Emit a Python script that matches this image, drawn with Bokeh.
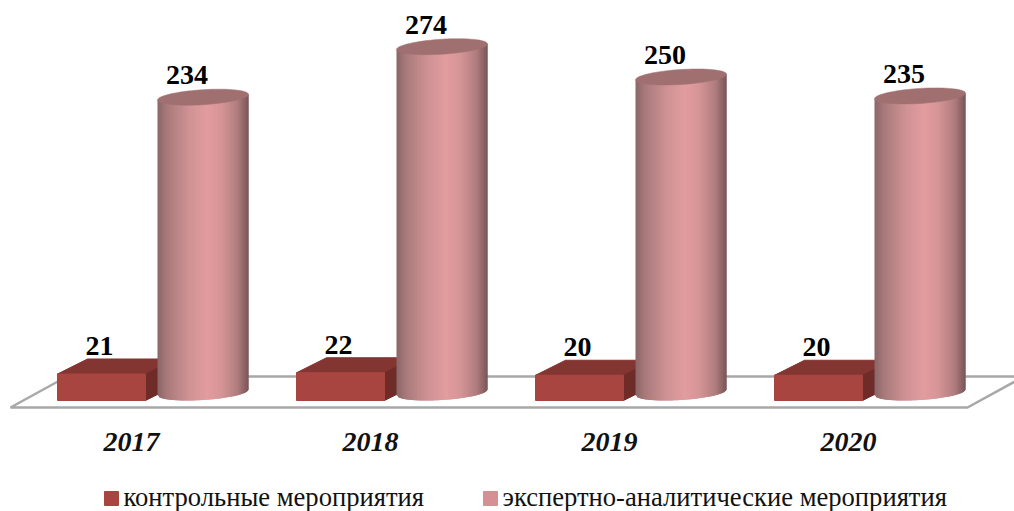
from bokeh.plotting import figure
from bokeh.models import ColumnDataSource
from bokeh.core.properties import value
from bokeh.embed import file_html
from bokeh.resources import INLINE
import numpy as np

years = ["2017", "2018", "2019", "2020"]
control = [21, 22, 20, 20]
expert = [234, 274, 250, 235]
series_names = ["контрольные мероприятия", "экспертно-аналитические мероприятия"]

FONT = "Liberation Serif"
W, H = 1014, 511
PX_X = 239.0      # pixels per category
PX_Y = 1.262      # pixels per value unit
ORIGIN_X = 131          # px of category 0
ORIGIN_Y = 392          # px (from top) of value 0
px = lambda n: n / PX_X
py = lambda n: n / PX_Y
page_x = lambda n: (n - ORIGIN_X) / PX_X
page_y = lambda n: (ORIGIN_Y - n) / PX_Y

p = figure(width=W, height=H, output_backend="svg", toolbar_location=None,
           x_range=(-ORIGIN_X / PX_X, (W - ORIGIN_X) / PX_X),
           y_range=(-(H - ORIGIN_Y) / PX_Y, ORIGIN_Y / PX_Y),
           min_border=0, outline_line_color=None, background_fill_color="white")
p.grid.visible = False
p.axis.visible = False

# floor
n = len(years)
fl = px(-121), px(836)
dx_f, dy_f = px(56.5), py(31)
fy = py(-15)
p.patch([fl[0], fl[1], fl[1] + dx_f, fl[0] + dx_f], [fy, fy, fy + dy_f, fy + dy_f],
        fill_color="white", line_color="#a8a8a8", line_width=2.5)

# red boxes
xs = np.arange(n, dtype=float)
bw = px(88)
bx = xs + px(-30)
base = py(-8)
dxb, dyb = px(30), py(15)
ctl = np.array(control, dtype=float)
left, right = bx - bw / 2, bx + bw / 2
p.patches([[l, r, r + dxb, l + dxb] for l, r in zip(left, right)],
          [[t, t, t + dyb, t + dyb] for t in ctl + base],
          fill_color="#833531", line_color="#833531")
p.patches([[r, r + dxb, r + dxb, r] for r in right],
          [[base, base + dyb, t + dyb, t] for t in ctl + base],
          fill_color="#6f2b28", line_color="#6f2b28")
p.quad(left=left, right=right, bottom=base, top=ctl + base,
       fill_color="#a94540", line_color="#a94540")

# cylinders
stops_f = [0.0, 0.10, 0.35, 0.55, 0.70, 0.88, 1.0]
stops_c = np.array([[0x8a, 0x66, 0x67], [0xa8, 0x79, 0x7a], [0xd0, 0x93, 0x95],
                    [0xe2, 0x9c, 0x9f], [0xd6, 0x95, 0x97], [0xb0, 0x7c, 0x7e],
                    [0x78, 0x55, 0x56]])
def shade(f):
    c = [int(round(np.interp(f, stops_f, stops_c[:, i]))) for i in range(3)]
    return "#%02x%02x%02x" % tuple(c)

A, B, K = 45.5, 7.5, 2.8
N = 60
cx0 = xs + px(71.5)
u = np.linspace(-1, 1, N + 1)          # position across the cylinder
def low(c):
    return py(K * c - B * np.sqrt(np.clip(1 - c * c, 0, 1)))
sx, sy, sc = [], [], []
for cx, v in zip(cx0, expert):
    for i in range(N):
        c0, c1 = u[i], u[min(i + 2, N)]   # overlap the next strip, no seams
        x0, x1 = cx + px(A * c0), cx + px(A * c1)
        sx.append([x0, x1, x1, x0])
        sy.append([low(c0), low(c1), v + py(K * c1), v + py(K * c0)])
        sc.append(shade((i + 0.5) / N))
p.patches(xs="x", ys="y", fill_color="c", line_color=None,
          source=ColumnDataSource(dict(x=sx, y=sy, c=sc)))
tt = np.linspace(0, 2 * np.pi, 73)
p.patches([list(cx + px(A * np.cos(tt))) for cx in cx0],
          [list(v + py(K * np.cos(tt) + B * np.sin(tt))) for v in expert],
          fill_color="#a07071", line_color="#a07071", line_width=0.5)

# value labels
lab = dict(text_font=value(FONT), text_font_size="28px", text_font_style="bold",
           text_color="#000000", text_align="center", text_baseline="alphabetic",
           y_offset=-11)
p.text(x=xs + px(-32), y=ctl + base + dyb + py(2), text=[str(v) for v in control], **lab)
p.text(x=cx0 + px(-16), y=np.array(expert, dtype=float) + py(11), text=[str(v) for v in expert], **lab)

# year labels
p.text(x=xs, y=[page_y(441)] * n, text=years, text_font=value(FONT), text_font_size="28px",
       text_font_style="bold italic", text_color="#111111", text_align="center",
       text_baseline="middle")

# legend
sw_x = [104, 483]
txt_x = [123, 502]
sw_col = ["#a94540", "#d49092"]
p.quad(left=[page_x(a) for a in sw_x], right=[page_x(a + 14) for a in sw_x],
       bottom=[page_y(505)] * 2, top=[page_y(491)] * 2, fill_color=sw_col, line_color=sw_col)
p.text(x=[page_x(a) for a in txt_x], y=[page_y(496)] * 2, text=series_names,
       text_font=value(FONT), text_font_size="26.6px", text_color="#111111",
       text_align="left", text_baseline="middle")

open("out.html", "w").write(file_html(p, INLINE))
